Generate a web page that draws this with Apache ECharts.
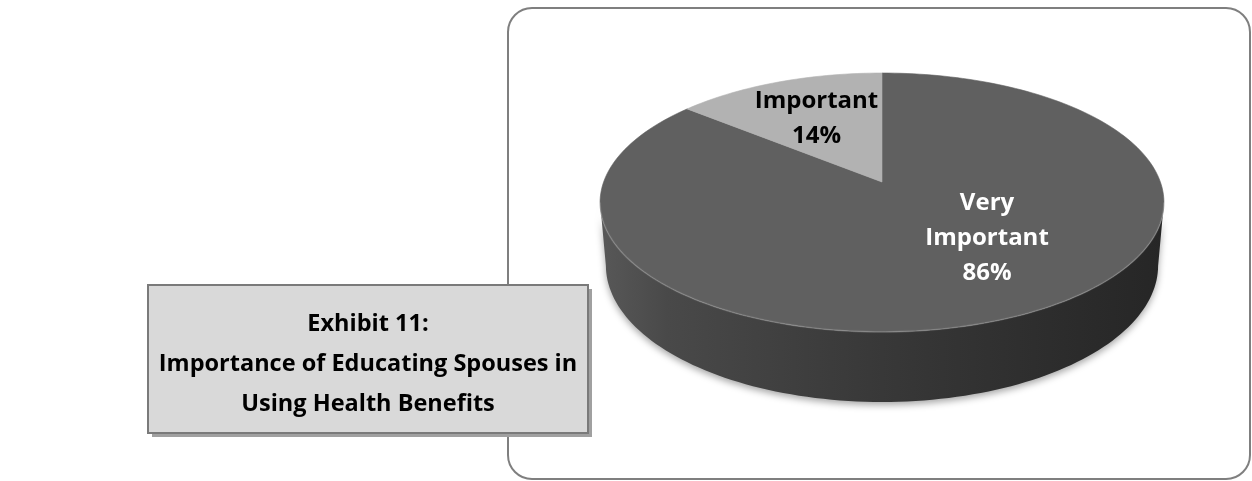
<!DOCTYPE html>
<html>
<head>
<meta charset="utf-8">
<script src="https://cdn.jsdelivr.net/npm/echarts@6/dist/echarts.min.js"></script>
<style>
  html, body { margin: 0; padding: 0; background: #ffffff; }
  #chart { width: 1252px; height: 481px; }
</style>
</head>
<body>
<div id="chart"></div>
<script>
// ---- data ----
const categories = ['Very Important', 'Important'];
const shares = [86, 14];
const sliceColors = ['#606060', '#b2b2b2'];
const labelColors = ['#ffffff', '#000000'];
const titleLines = ['Exhibit 11:', 'Importance of Educating Spouses in', 'Using Health Benefits'];

// ---- 3D pie camera (perspective projection of a tilted disc) ----
const PIE = {
  cx: 882, cy: 182,          // screen position of the disc centre
  scale: 278.4,              // px per radius at the centre depth
  tilt: 26.96 * Math.PI / 180,
  persp: 0.1773,             // radius / camera distance
  thickness: 0.256           // wall height in radii
};
// label placement per slice: [angle shift in degrees, radius fraction]
const labelPlacement = [[-15.2, 0.544], [0, 0.6]];

function project(X, Y, Z) {
  const ca = Math.cos(PIE.tilt), sa = Math.sin(PIE.tilt);
  const d = 1 + PIE.persp * (Z * ca - Y * sa);
  return [PIE.cx + PIE.scale * X / d, PIE.cy - PIE.scale * (Y * ca + Z * sa) / d];
}
// angle measured clockwise from 12 o'clock (far side of the disc)
function rimPoint(deg, r, y) {
  const p = deg * Math.PI / 180;
  return project(r * Math.sin(p), y, r * Math.cos(p));
}
function arc(a0, a1, r, y) {
  const pts = [];
  const n = Math.max(2, Math.ceil(Math.abs(a1 - a0) / 1.5));
  for (let k = 0; k <= n; k++) pts.push(rimPoint(a0 + (a1 - a0) * k / n, r, y));
  return pts;
}

const total = shares.reduce((a, b) => a + b, 0);
// visible front wall between the two silhouette tangents
const kTan = PIE.persp * Math.cos(PIE.tilt);
const tanDeg = Math.acos(-kTan) * 180 / Math.PI;
const FRONT = [tanDeg, 360 - tanDeg];

const sideFill = new echarts.graphic.LinearGradient(0, 0, 1, 0, [
  { offset: 0, color: '#585858' },
  { offset: 0.12, color: '#494949' },
  { offset: 0.5, color: '#383838' },
  { offset: 0.85, color: '#2b2b2b' },
  { offset: 1, color: '#262626' }
]);

function renderSlice(params, api) {
  const i = params.dataIndex;
  const v = api.value(0);
  let before = 0;
  for (let k = 0; k < i; k++) before += shares[k];
  const a0 = 360 * before / total;
  const a1 = a0 + 360 * v / total;
  const children = [];

  const lo = Math.max(a0, FRONT[0]), hi = Math.min(a1, FRONT[1]);
  if (hi > lo) {
    const topEdge = arc(lo, hi, 1, 0);
    const bottomEdge = arc(hi, lo, 1, -PIE.thickness);
    children.push({
      type: 'polygon',
      shape: { points: topEdge.concat(bottomEdge) },
      style: { fill: sideFill, shadowBlur: 7, shadowColor: 'rgba(0,0,0,0.35)', shadowOffsetY: 3 },
      z2: 1
    });
    children.push({
      type: 'polyline',
      shape: { points: arc(lo, hi, 1, 0) },
      style: { stroke: 'rgba(255,255,255,0.16)', lineWidth: 1.6, fill: null, shadowBlur: 3, shadowColor: 'rgba(255,255,255,0.25)' },
      z2: 12
    });
  }

  const face = [project(0, 0, 0)].concat(arc(a0, a1, 1, 0));
  children.push({
    type: 'polygon',
    shape: { points: face },
    style: { fill: sliceColors[i], stroke: sliceColors[i], lineWidth: 0.6 },
    z2: 10
  });

  const mid = (a0 + a1) / 2 + labelPlacement[i][0];
  const lp = rimPoint(mid, labelPlacement[i][1], 0);
  const name = categories[i].split(' ').join('\n');
  children.push({
    type: 'text',
    x: lp[0], y: lp[1],
    style: {
      text: name + '\n' + Math.round(v / total * 100) + '%',
      fill: labelColors[i],
      font: 'bold 24px "Open Sans", sans-serif',
      lineHeight: 35,
      align: 'center',
      verticalAlign: 'middle'
    },
    z2: 20
  });
  return { type: 'group', children: children };
}

const chart = echarts.init(document.getElementById('chart'), null, { renderer: 'canvas' });

const titleBox = { x: 148, y: 285, w: 440, h: 148 };
const titleText = titleLines.map((t, k) => ({
  type: 'text',
  x: titleBox.x + titleBox.w / 2,
  y: 324 + k * 40,
  z: 12,
  style: {
    text: t,
    fill: '#000000',
    font: 'bold 23.5px "Open Sans", sans-serif',
    align: 'center',
    verticalAlign: 'middle'
  }
}));

chart.setOption({
  animation: false,
  backgroundColor: '#ffffff',
  graphic: [
    {
      type: 'rect', z: 1,
      shape: { x: 508, y: 8, width: 742, height: 471, r: 24 },
      style: { fill: '#ffffff', stroke: '#7f7f7f', lineWidth: 2 }
    },
    {
      type: 'rect', z: 10,
      shape: { x: titleBox.x + 4, y: titleBox.y + 4, width: titleBox.w, height: titleBox.h },
      style: { fill: '#a0a0a0' }
    },
    {
      type: 'rect', z: 11,
      shape: { x: titleBox.x, y: titleBox.y, width: titleBox.w, height: titleBox.h },
      style: { fill: '#d9d9d9', stroke: '#7a7a7a', lineWidth: 2 }
    }
  ].concat(titleText),
  series: [{
    type: 'custom',
    coordinateSystem: 'none',
    silent: true,
    z: 5,
    data: categories.map((c, i) => ({ name: c, value: [shares[i]] })),
    renderItem: renderSlice
  }]
});
</script>
</body>
</html>
